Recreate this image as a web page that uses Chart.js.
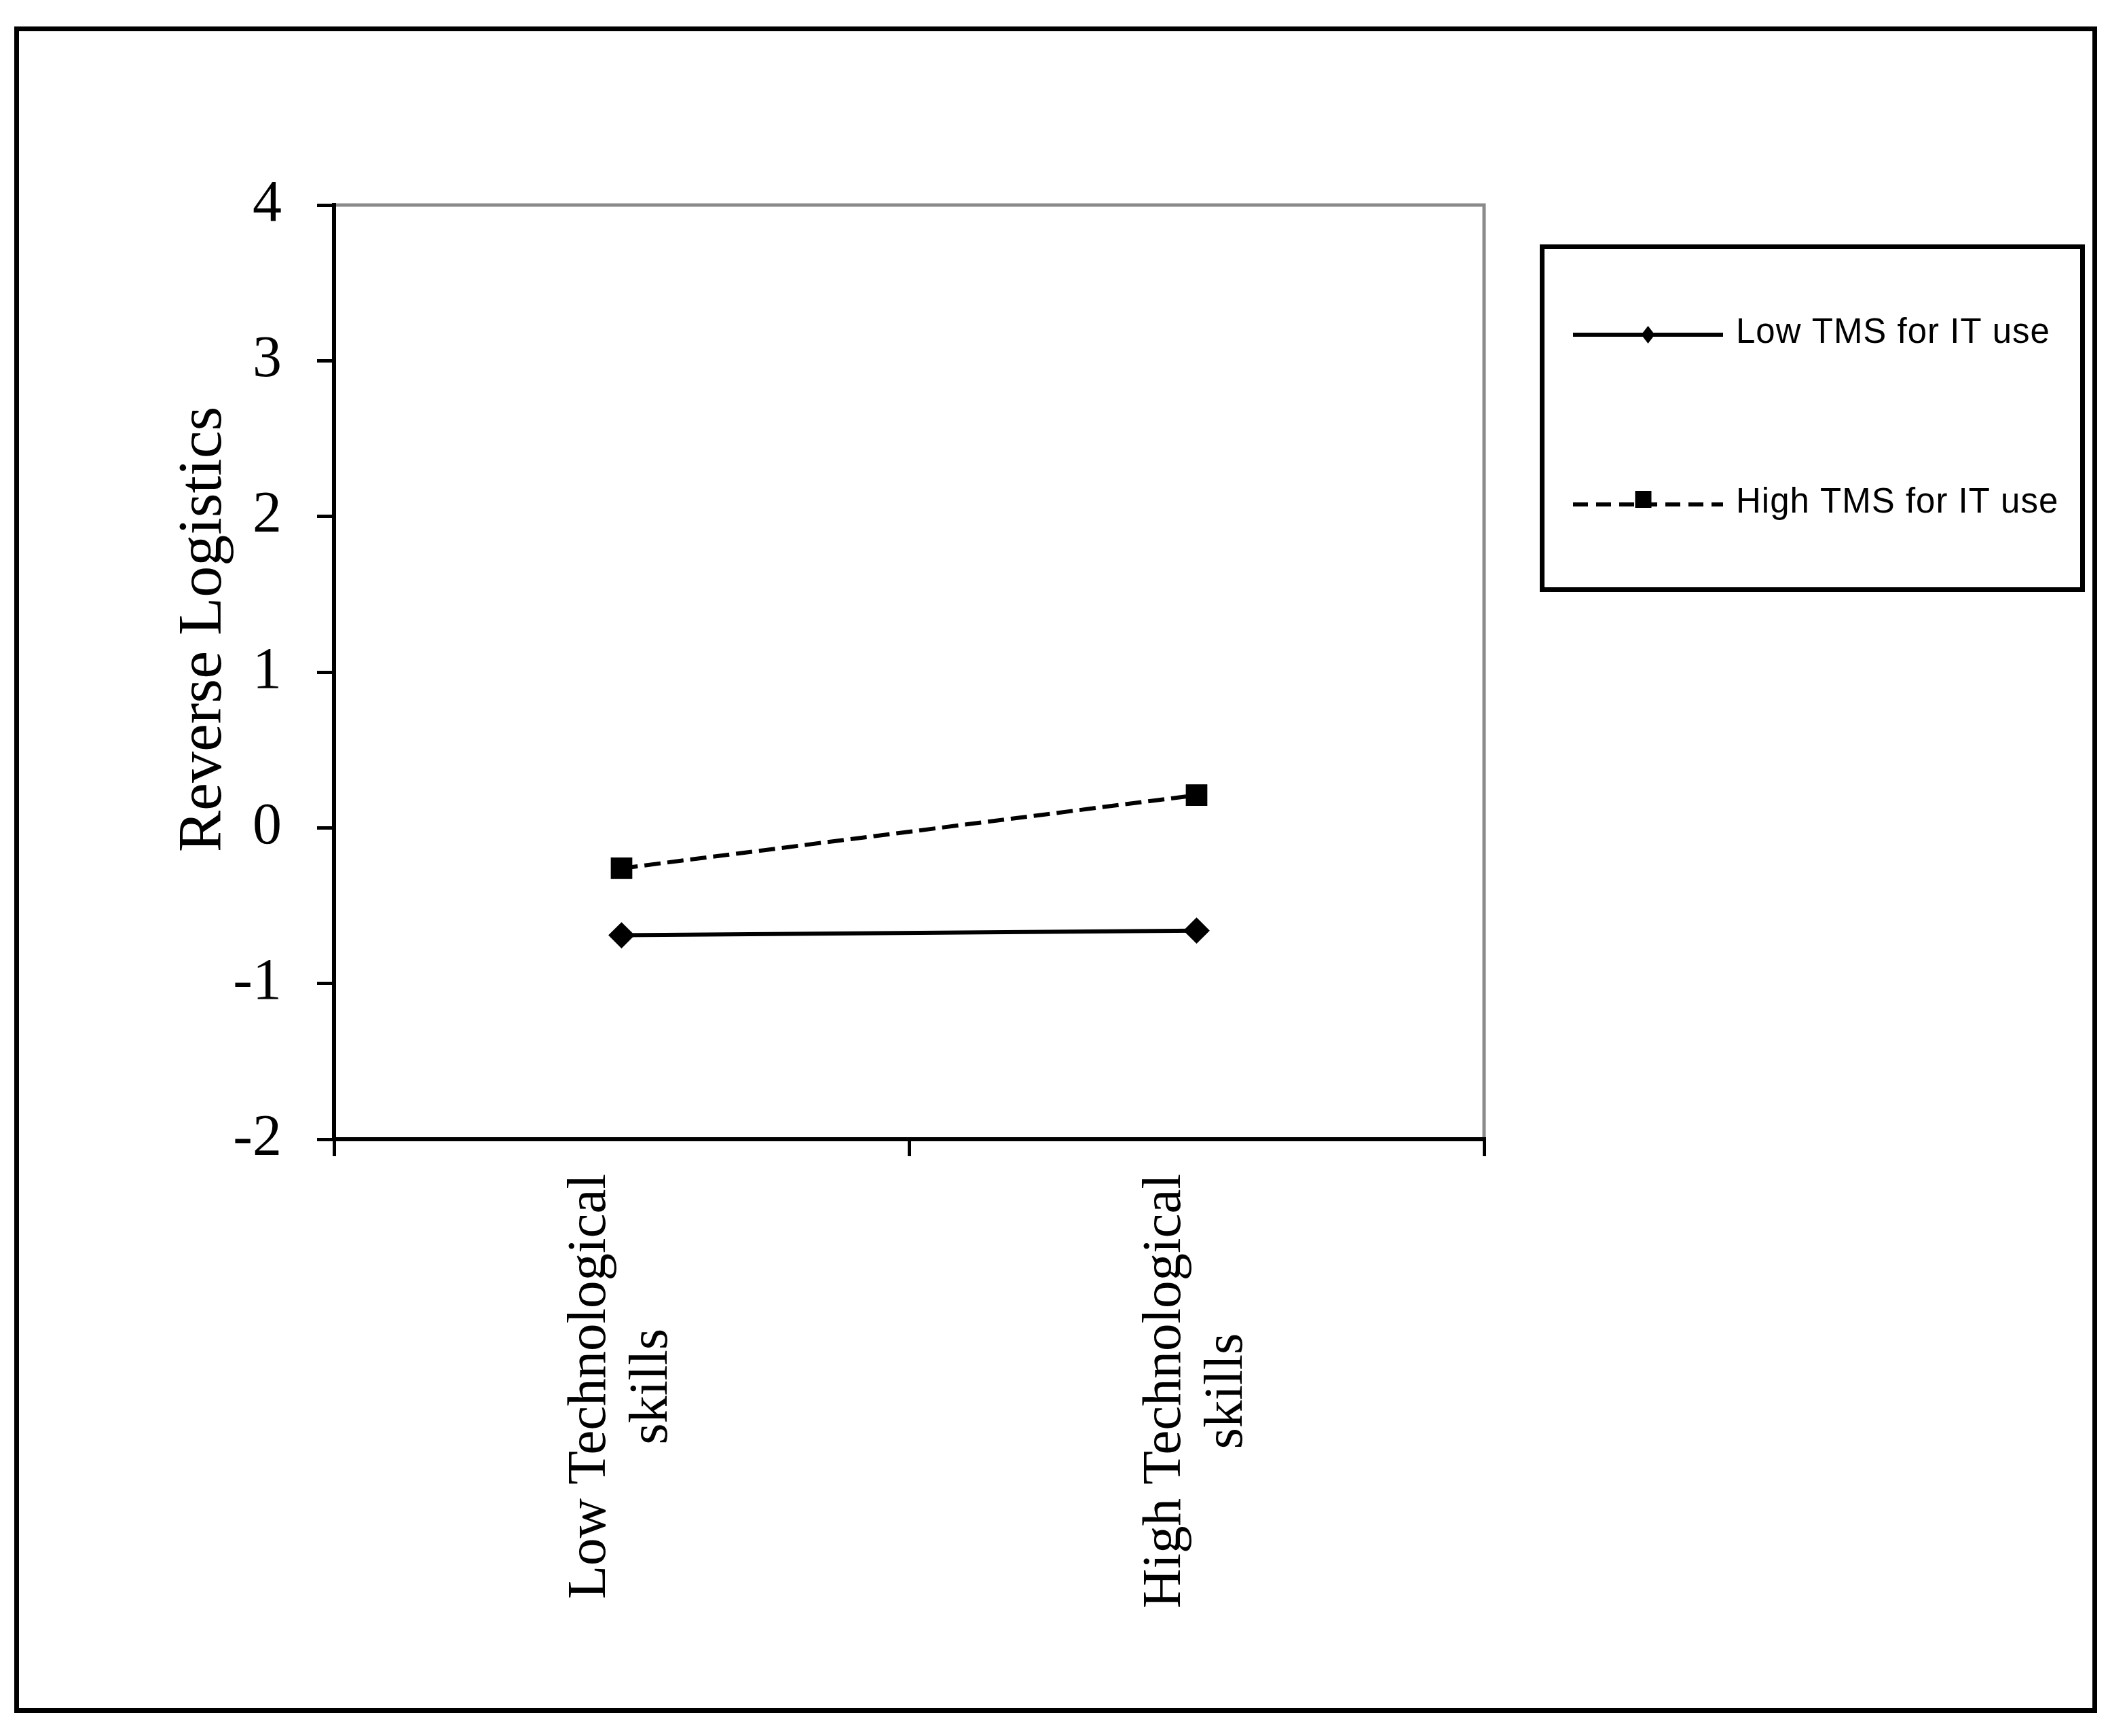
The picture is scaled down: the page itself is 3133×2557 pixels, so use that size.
<!DOCTYPE html>
<html lang="en">
<head>
<meta charset="utf-8">
<title>Reverse Logistics</title>
<script src="https://cdn.jsdelivr.net/npm/chart.js@4.4.1/dist/chart.umd.min.js"></script>
<style>
  html, body { margin: 0; padding: 0; background: #fff; }
  canvas { display: block; }
</style>
</head>
<body>
<canvas id="lineChart" width="3133" height="2557"></canvas>
<script>
// Données du graphique
const categories = [['Low Technological', 'skills'], ['High Technological', 'skills']];
const seriesLabels = ['Low TMS for IT use', 'High TMS for IT use'];
const lowTmsValues = [-0.69, -0.66];
const highTmsValues = [-0.26, 0.21];
const yTicks = [-2, -1, 0, 1, 2, 3, 4];
const yTitle = 'Reverse Logistics';

const serif = "'Liberation Serif', 'Times New Roman', serif";
const sans = "'Liberation Sans', Arial, sans-serif";

// Cadre, bord gris de la zone de tracé, étiquettes X, titre Y et légende
const framePlugin = {
    id: 'frame',
    beforeDraw(chart) {
        const { ctx, chartArea: a } = chart;
        ctx.save();
        ctx.strokeStyle = '#000';
        ctx.lineWidth = 7;
        ctx.strokeRect(24.5, 42.5, 3061, 2477);
        ctx.strokeStyle = '#8a8a8a';
        ctx.lineWidth = 5;
        ctx.beginPath();
        ctx.moveTo(a.left, a.top);
        ctx.lineTo(a.right, a.top);
        ctx.lineTo(a.right, a.bottom);
        ctx.stroke();
        ctx.restore();
    },
    afterDraw(chart) {
        const { ctx, chartArea: a } = chart;
        const xScale = chart.scales.x;
        ctx.save();
        ctx.fillStyle = '#000';

        // étiquettes de l'axe X (verticales, centrées)
        ctx.font = `81px ${serif}`;
        categories.forEach((lines, i) => {
            const x = xScale.getPixelForValue(i);
            const w = Math.max(...lines.map(l => ctx.measureText(l).width));
            ctx.save();
            ctx.translate(x, a.bottom + 51 + w / 2);
            ctx.rotate(-Math.PI / 2);
            ctx.textAlign = 'center';
            ctx.textBaseline = 'middle';
            lines.forEach((line, j) => {
                ctx.fillText(line, 0, (j - (lines.length - 1) / 2) * 91);
            });
            ctx.restore();
        });

        // titre de l'axe Y
        ctx.font = `92px ${serif}`;
        ctx.save();
        ctx.translate(325, a.top + 625);
        ctx.rotate(-Math.PI / 2);
        ctx.textAlign = 'center';
        ctx.textBaseline = 'alphabetic';
        ctx.fillText(yTitle, 0, 0);
        ctx.restore();

        // légende
        ctx.strokeStyle = '#000';
        ctx.lineWidth = 7;
        ctx.strokeRect(2271.5, 363.5, 796, 505);
        ctx.font = `51px ${sans}`;
        ctx.letterSpacing = '1px';
        ctx.textAlign = 'left';
        ctx.textBaseline = 'middle';
        chart.data.datasets.forEach((ds, i) => {
            const y = 493 + i * 250;
            const x0 = 2317, x1 = 2538, xm = (x0 + x1) / 2;
            ctx.lineWidth = 6;
            ctx.setLineDash(ds.borderDash ? [22, 12] : []);
            ctx.beginPath();
            ctx.moveTo(x0, y);
            ctx.lineTo(x1, y);
            ctx.stroke();
            ctx.setLineDash([]);
            if (ds.pointStyle === 'rectRot') {
                ctx.beginPath();
                ctx.moveTo(xm - 10, y);
                ctx.lineTo(xm, y - 13);
                ctx.lineTo(xm + 10, y);
                ctx.lineTo(xm, y + 13);
                ctx.closePath();
                ctx.fill();
            } else {
                ctx.fillRect(xm - 19, y - 20, 24, 25);
            }
            ctx.fillText(ds.label, 2557, y - 2);
        });
        ctx.restore();
    }
};

const ctx = document.getElementById('lineChart').getContext('2d');
const lineChart = new Chart(ctx, {
    type: 'line',
    data: {
        labels: categories,
        datasets: [{
            label: seriesLabels[0],
            data: lowTmsValues,
            borderColor: '#000',
            backgroundColor: '#000',
            borderWidth: 6,
            pointStyle: 'rectRot',
            pointRadius: 18,
            pointHoverRadius: 18,
            pointBorderWidth: 2,
            tension: 0
        }, {
            label: seriesLabels[1],
            data: highTmsValues,
            borderColor: '#000',
            backgroundColor: '#000',
            borderWidth: 6,
            borderDash: [24, 10],
            pointStyle: 'rect',
            pointRadius: 21,
            pointHoverRadius: 21,
            pointBorderWidth: 2,
            tension: 0
        }]
    },
    options: {
        responsive: false,
        animation: false,
        layout: { padding: { top: 302, right: 947, left: 0, bottom: 0 } },
        plugins: {
            legend: { display: false },
            tooltip: { enabled: false }
        },
        scales: {
            x: {
                type: 'category',
                offset: true,
                grid: { drawOnChartArea: false, offset: true, tickLength: 25, color: '#000', lineWidth: 5 },
                border: { color: '#000', width: 6 },
                ticks: { display: false },
                afterFit: s => { s.height = 2557 - 1678; }
            },
            y: {
                type: 'linear',
                min: yTicks[0],
                max: yTicks[yTicks.length - 1],
                afterBuildTicks: s => { s.ticks = yTicks.map(v => ({ value: v })); },
                grid: { drawOnChartArea: false, tickLength: 25, color: '#000', lineWidth: 5 },
                border: { color: '#000', width: 6 },
                ticks: { color: '#000', padding: 52, font: { family: serif, size: 86 } },
                afterFit: s => { s.width = 492; }
            }
        }
    },
    plugins: [framePlugin]
});
</script>
</body>
</html>
